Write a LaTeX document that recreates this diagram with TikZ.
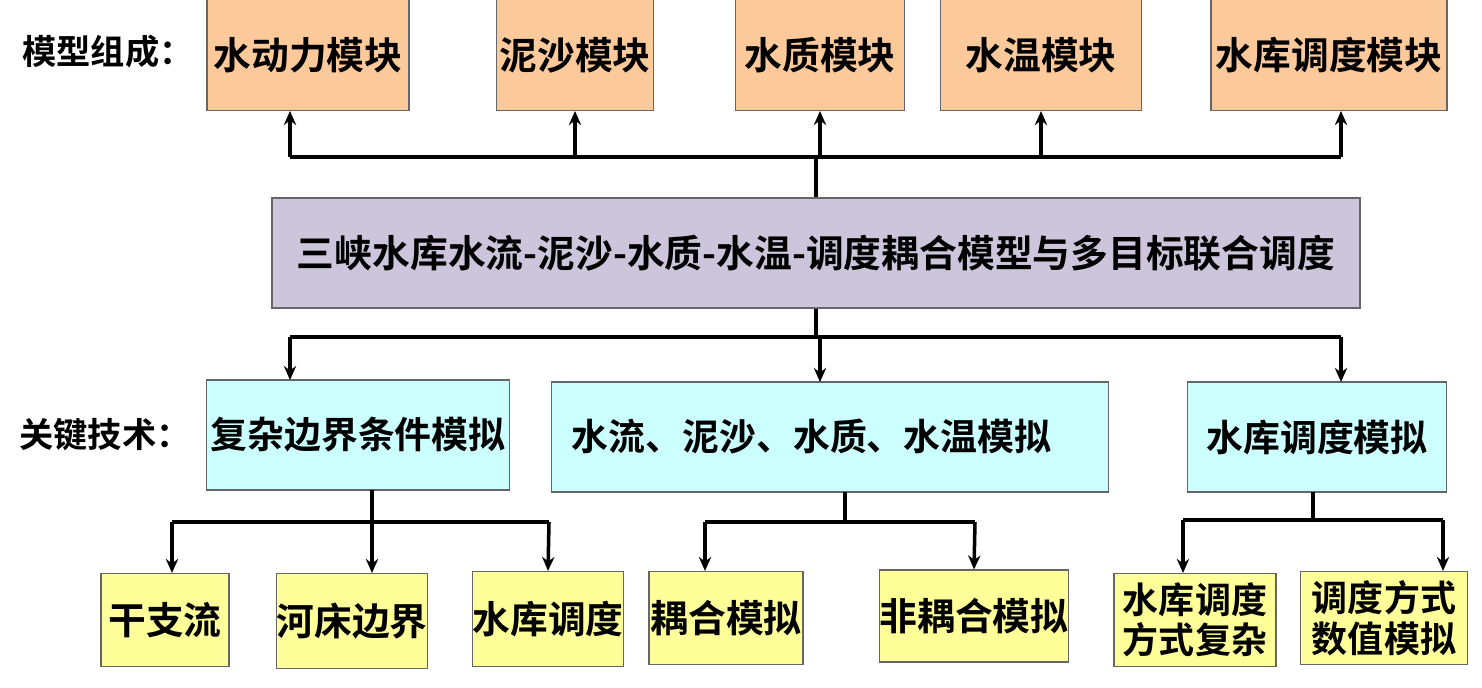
\documentclass[tikz,border=0pt]{standalone}
\usepackage{fontspec}
\newfontfamily\cjk{Noto Sans CJK SC Bold}
\usetikzlibrary{arrows.meta}
\definecolor{peach}{HTML}{FCC99B}
\definecolor{lav}{HTML}{CDC5DB}
\definecolor{cyanl}{HTML}{CCFFFF}
\definecolor{yell}{HTML}{FFFF99}
\begin{document}
\begin{tikzpicture}[x=0.02cm,y=-0.02cm,
  box/.style={draw=black!60,line width=0.6pt,inner sep=0pt,font=\cjk\fontsize{21.5}{24}\selectfont,align=center},
  bus/.style={line width=2.6pt},
  arr/.style={line width=2pt,-{Stealth[length=8pt,width=7pt]}}]
\useasboundingbox (0,0) rectangle (1482,688);

% top row
\node[box,fill=peach,minimum width=202*0.02cm,minimum height=111*0.02cm] (dyn) at (308,55) {水动力模块};
\node[box,fill=peach,minimum width=157*0.02cm,minimum height=111*0.02cm] (sed) at (575,55) {泥沙模块};
\node[box,fill=peach,minimum width=169*0.02cm,minimum height=111*0.02cm] (qual) at (820,55) {水质模块};
\node[box,fill=peach,minimum width=201*0.02cm,minimum height=111*0.02cm] (temp) at (1041,55) {水温模块};
\node[box,fill=peach,minimum width=236*0.02cm,minimum height=111*0.02cm] (res) at (1329,55) {水库调度模块};
\node[font=\cjk\fontsize{19.5}{22}\selectfont] (lab1) at (108,52) {模型组成：};

% main
\node[box,fill=lav,minimum width=1088*0.02cm,minimum height=110*0.02cm,font=\cjk\fontsize{21.5}{24}\selectfont] (main) at (816,253) {三峡水库水流-泥沙-水质-水温-调度耦合模型与多目标联合调度};

% middle row
\node[box,fill=cyanl,minimum width=303*0.02cm,minimum height=110*0.02cm,font=\cjk\fontsize{21}{24}\selectfont] (bnd) at (358,435) {复杂边界条件模拟};
\node[box,fill=cyanl,minimum width=557*0.02cm,minimum height=110*0.02cm,font=\cjk\fontsize{21}{24}\selectfont] (sim) at (830,437) {\kern-1em 水流、泥沙、水质、水温模拟};
\node[box,fill=cyanl,minimum width=259*0.02cm,minimum height=110*0.02cm,font=\cjk\fontsize{21}{24}\selectfont] (disp) at (1317,437) {水库调度模拟};
\node[font=\cjk\fontsize{19.5}{22}\selectfont] (lab2) at (105,435) {关键技术：};

% bottom row
\node[box,fill=yell,minimum width=128*0.02cm,minimum height=93*0.02cm] (trib) at (165,620) {干支流};
\node[box,fill=yell,minimum width=150*0.02cm,minimum height=95*0.02cm] (bed) at (352,621) {河床边界};
\node[box,fill=yell,minimum width=150*0.02cm,minimum height=95*0.02cm] (rop) at (548,619) {水库调度};
\node[box,fill=yell,minimum width=154*0.02cm,minimum height=93*0.02cm] (cpl) at (726,618) {耦合模拟};
\node[box,fill=yell,minimum width=189*0.02cm,minimum height=92*0.02cm] (ncpl) at (974,616) {非耦合模拟};
\node[box,fill=yell,minimum width=162*0.02cm,minimum height=93*0.02cm,font=\cjk\fontsize{20.5}{23}\selectfont] (cplx) at (1195,620) {水库调度\\方式复杂};
\node[box,fill=yell,minimum width=167*0.02cm,minimum height=93*0.02cm,font=\cjk\fontsize{20.5}{23}\selectfont] (num) at (1384,618) {调度方式\\数值模拟};

% connectors top
\coordinate (tb) at (820,157);
\draw[bus] (main.north) -- (main.north |- tb);
\draw[bus] (290,157) -- (1341,157);
\draw[arr] (290,157) -- (290,111);
\foreach \n in {sed,qual,temp} \draw[arr] (\n.south |- tb) -- (\n.south);
\draw[arr] (1341,157) -- (1341,111);

% connectors middle
\coordinate (mb) at (820,337);
\draw[bus] (main.south) -- (main.south |- mb);
\draw[bus] (290,337) -- (1341,337);
\draw[arr] (290,337) -- (290,380);
\draw[arr] (mb) -- (820,382);
\draw[arr] (1341,337) -- (1341,382);

% connectors bottom
\draw[bus] (372,490) -- (372,522);
\draw[bus] (172,522) -- (549,522);
\draw[arr] (172,522) -- (trib.north -| 172,0);
\draw[arr] (372,522) -- (bed.north -| 372,0);
\draw[arr] (549,522) -- (rop.north);
\draw[bus] (845,492) -- (845,522);
\draw[bus] (705,522) -- (975,522);
\draw[arr] (705,522) -- (cpl.north -| 705,0);
\draw[arr] (975,522) -- (ncpl.north);
\draw[bus] (1313,492) -- (1313,520);
\draw[bus] (1183,520) -- (1443,520);
\draw[arr] (1183,520) -- (cplx.north -| 1183,0);
\draw[arr] (1443,520) -- (num.north -| 1443,0);
\end{tikzpicture}
\end{document}
